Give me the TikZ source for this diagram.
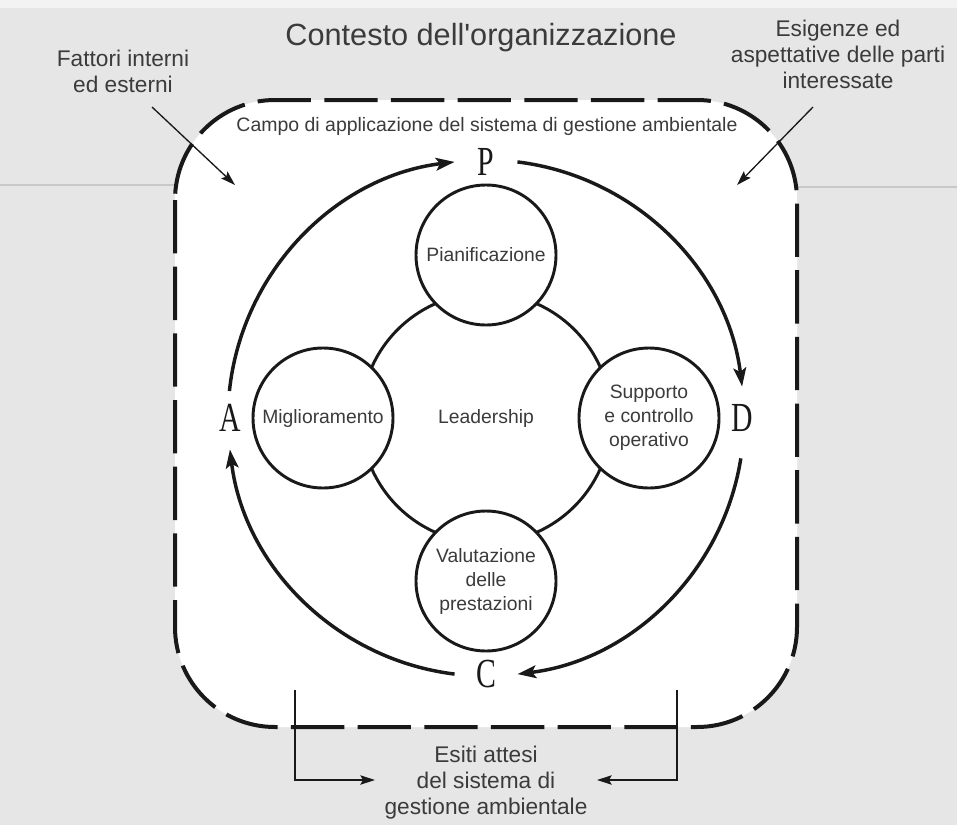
\documentclass[tikz,border=0pt]{standalone}
\usepackage{fontspec}
\setmainfont{Liberation Sans}
\newfontfamily\pdcafont{Liberation Serif}
\usetikzlibrary{arrows.meta}
\definecolor{paper}{RGB}{230,230,230}
\definecolor{strip}{RGB}{243,243,243}
\definecolor{scanline}{RGB}{200,200,200}
\definecolor{ink}{RGB}{25,25,25}
\newcommand{\narrowletter}[1]{\scalebox{0.72}[1]{#1}}

\begin{document}
\begin{tikzpicture}[x=0.75pt,y=-0.75pt,
	phase/.style={circle,draw=ink,line width=2.2pt,fill=white,minimum size=105pt,inner sep=0pt,align=center,text=ink!85,font=\fontsize{14.5}{18}\selectfont},
	letter/.style={inner sep=0pt,text=ink,font=\pdcafont\fontsize{31}{31}\selectfont},
	cycle/.style={draw=ink,line width=2.6pt,-{Stealth[length=14pt,width=9.5pt,inset=3pt]}},
	frame/.style={draw=ink,line width=3pt,dash pattern=on 40pt off 10pt,rounded corners=75pt,fill=white},
	note/.style={align=center,text=ink!85,font=\fontsize{17}{19.5}\selectfont},
	pointer/.style={draw=ink,line width=1pt,-{Stealth[length=11pt,width=7pt,inset=2pt]}}]
\useasboundingbox (0,0) rectangle (957,825);
\fill[paper] (0,0) rectangle (957,825);
\fill[strip] (0,0) rectangle (957,8);
\draw[scanline,line width=0.8pt] (0,185) -- (175,185);
\draw[scanline,line width=0.8pt] (797,187) -- (957,187);

% outer box
\draw[frame] (175,100) rectangle (797,727);
\node[text=ink!85,font=\fontsize{23}{26}\selectfont] (ctx) at (481,38) {Contesto dell\textquotesingle organizzazione};
\node[text=ink!85,font=\fontsize{14.6}{17}\selectfont] (scope) at (487,126) {Campo di applicazione del sistema di gestione ambientale};
\node[note] (fi) at (123,71) {Fattori interni\\ed esterni};
\node[note] (es) at (838,54) {Esigenze ed\\aspettative delle parti\\interessate};
\coordinate (fi1) at (152,107);
\coordinate (fi2) at (235,185);
\coordinate (es1) at (813,107);
\coordinate (es2) at (737,185);
\draw[pointer] (fi1) -- (fi2);
\draw[pointer] (es1) -- (es2);

% PDCA cycle
\coordinate (o) at (486,418);
\foreach \s/\e in {277/353,9/83,97/173,186/263}
{
	\draw[cycle] ([shift={(\s:258)}]o) arc[start angle=\s,end angle=\e,radius=258];
}
\foreach \l/\ang in {P/270,D/0,C/90,A/180}
{
	\node[letter] (l\l) at ([shift={(\ang:256)}]o) {\narrowletter{\l}};
}

% leadership and phases
\node[circle,draw=ink,line width=2.2pt,minimum size=187.5pt,text=ink!85,font=\fontsize{14.5}{18}\selectfont] (lead) at (o) {Leadership};
\foreach \n/\ang/\txt in {p/270/Pianificazione,d/0/{Supporto\\e controllo\\operativo},c/90/{Valutazione\\delle\\prestazioni},a/180/Miglioramento}
{
	\node[phase] (f\n) at ([shift={(\ang:163)}]o) {\txt};
}

% expected outcomes
\node[note] (out) at (486,783) {Esiti attesi\\del sistema di\\gestione ambientale};
\coordinate (bl1) at (295,690);
\coordinate (bl2) at (375,780);
\coordinate (br1) at (677,690);
\coordinate (br2) at (597,780);
\draw[pointer] (bl1) |- (bl2);
\draw[pointer] (br1) |- (br2);
\end{tikzpicture}
\end{document}
